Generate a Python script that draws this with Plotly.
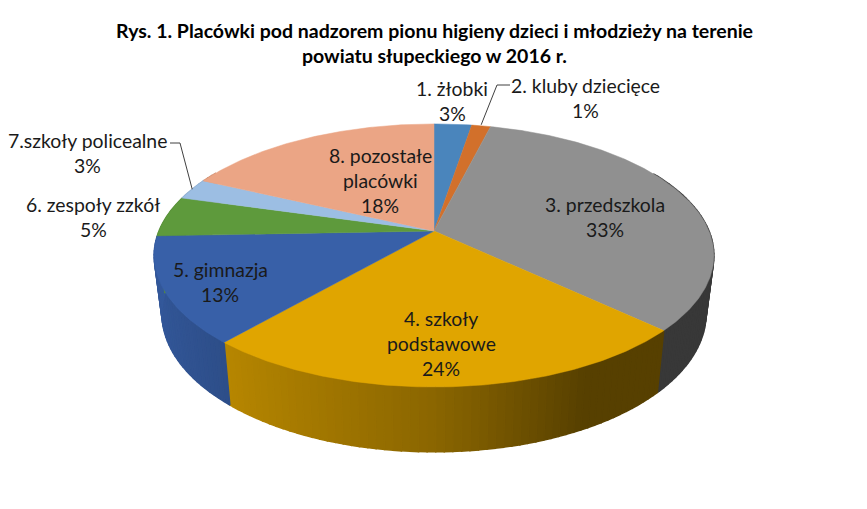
# -*- coding: utf-8 -*-
import numpy as np
import plotly.graph_objects as go

# Data (percent of all sites)
names = ["1. żłobki", "2. kluby dziecięce", "3. przedszkola", "4. szkoły\npodstawowe",
         "5. gimnazja", "6. zespoły zzkół", "7.szkoły policealne", "8. pozostałe\nplacówki"]
values = [2.6, 1.3, 33.1, 24.4, 13.0, 5.0, 2.6, 18.0]
colors = ["#4A85BC", "#D2702B", "#909090", "#E0A500", "#3860A8", "#5E9A3C", "#9CBEE3", "#EBA585"]

title_lines = ["Rys. 1. Placówki pod nadzorem pionu higieny dzieci i młodzieży na terenie",
               "powiatu słupeckiego w 2016 r."]

# Where the labels sit (centre x, y of first line), one per slice
label_x = [452, 585, 605, 441, 220, 93, 87, 380]
label_y = [88, 85, 204, 318, 269, 204, 140, 155]

# Perspective of the disc, in pixels of the 867x509 page
CX, CY, KX, KY, P = 434, 231, 275, 127, 0.186
BOTTOM_SX, BOTTOM_SY, BOTTOM_CY = 0.972, 1.05, 288

# The browser page keeps an 8px body margin, so the figure starts there
PAGE_MARGIN = 8


def top_rim(deg):
    # deg runs clockwise from twelve o'clock
    a = np.radians(deg)
    u, v = np.sin(a), -np.cos(a)
    d = 1 - P * v
    return CX + KX * u / d, CY + KY * v / d


def bottom_rim(deg):
    x, y = top_rim(deg)
    return CX + (x - CX) * BOTTOM_SX, BOTTOM_CY + (y - CY) * BOTTOM_SY


def shade(hex_color, f):
    r, g, b = [int(hex_color[i:i + 2], 16) for i in (1, 3, 5)]
    return "rgb(%d,%d,%d)" % (r * f, g * f, b * f)


def wall_light(u):
    # lighter on the left, flat dark past the middle of the right side
    if u < 0:
        return 0.62 - 0.3 * u
    return max(0.39, 0.62 - 0.5 * u)


share = np.array(values) / sum(values) * 360
ends = np.cumsum(share)
starts = ends - share

fig = go.Figure()

# Side walls, in thin strips so the shading runs left to right
for s, e, c in zip(starts, ends, colors):
    steps = np.arange(s, e + 1.5, 1.5)
    steps[-1] = e
    for a0, a1 in zip(steps[:-1], steps[1:]):
        if not 60 < (a0 + a1) / 2 < 300:
            continue
        x0, y0 = top_rim(a0)
        x1, y1 = top_rim(a1)
        x2, y2 = bottom_rim(a1)
        x3, y3 = bottom_rim(a0)
        u = np.sin(np.radians((a0 + a1) / 2))
        col = shade(c, wall_light(u))
        fig.add_trace(go.Scatter(x=[x0, x1, x2, x3, x0], y=[y0, y1, y2, y3, y0], mode="lines",
                                 fill="toself", fillcolor=col, line=dict(color=col, width=1.5),
                                 hoverinfo="skip", showlegend=False))

# Top face
for s, e, c, n in zip(starts, ends, colors, names):
    deg = np.linspace(s, e, max(int(e - s) * 2, 4))
    rx, ry = top_rim(deg)
    fig.add_trace(go.Scatter(x=[CX] + list(rx) + [CX], y=[CY] + list(ry) + [CY], mode="lines",
                             fill="toself", fillcolor=c, line=dict(color=c, width=0.5),
                             name=n.replace("\n", " "), showlegend=False))

# Leader lines for the two labels that sit out of their slices
mid = (starts + ends) / 2
x_rim, y_rim = top_rim(mid[1])
fig.add_trace(go.Scatter(x=[x_rim, 497, 510], y=[y_rim - 1, 85, 85], mode="lines",
                         line=dict(color="#404040", width=1), hoverinfo="skip", showlegend=False))
x_rim, y_rim = top_rim(mid[6])
fig.add_trace(go.Scatter(x=[x_rim, 180, 170], y=[y_rim, 143, 143], mode="lines",
                         line=dict(color="#404040", width=1), hoverinfo="skip", showlegend=False))

# Labels, one annotation per line for the tight line spacing
for n, v, lx, ly in zip(names, values, label_x, label_y):
    lines = n.split("\n") + ["%d%%" % round(v)]
    for i, line in enumerate(lines):
        fig.add_annotation(x=lx, y=ly + i * 25, text=line, showarrow=False, xanchor="center",
                           yanchor="middle", font=dict(family="Lato", size=19.4, color="#1A1A1A"))

for i, line in enumerate(title_lines):
    fig.add_annotation(x=434, y=30 + i * 25, text="<b>%s</b>" % line, showarrow=False,
                       xanchor="center", yanchor="middle",
                       font=dict(family="Lato", size=19.5, color="#000000"))

fig.update_layout(
    width=867 - PAGE_MARGIN, height=509 - PAGE_MARGIN, margin=dict(l=0, r=0, t=0, b=0),
    paper_bgcolor="white", plot_bgcolor="white", showlegend=False,
    xaxis=dict(range=[PAGE_MARGIN, 867], visible=False, fixedrange=True),
    yaxis=dict(range=[509, PAGE_MARGIN], visible=False, fixedrange=True),
)
fig.write_html("out.html")
